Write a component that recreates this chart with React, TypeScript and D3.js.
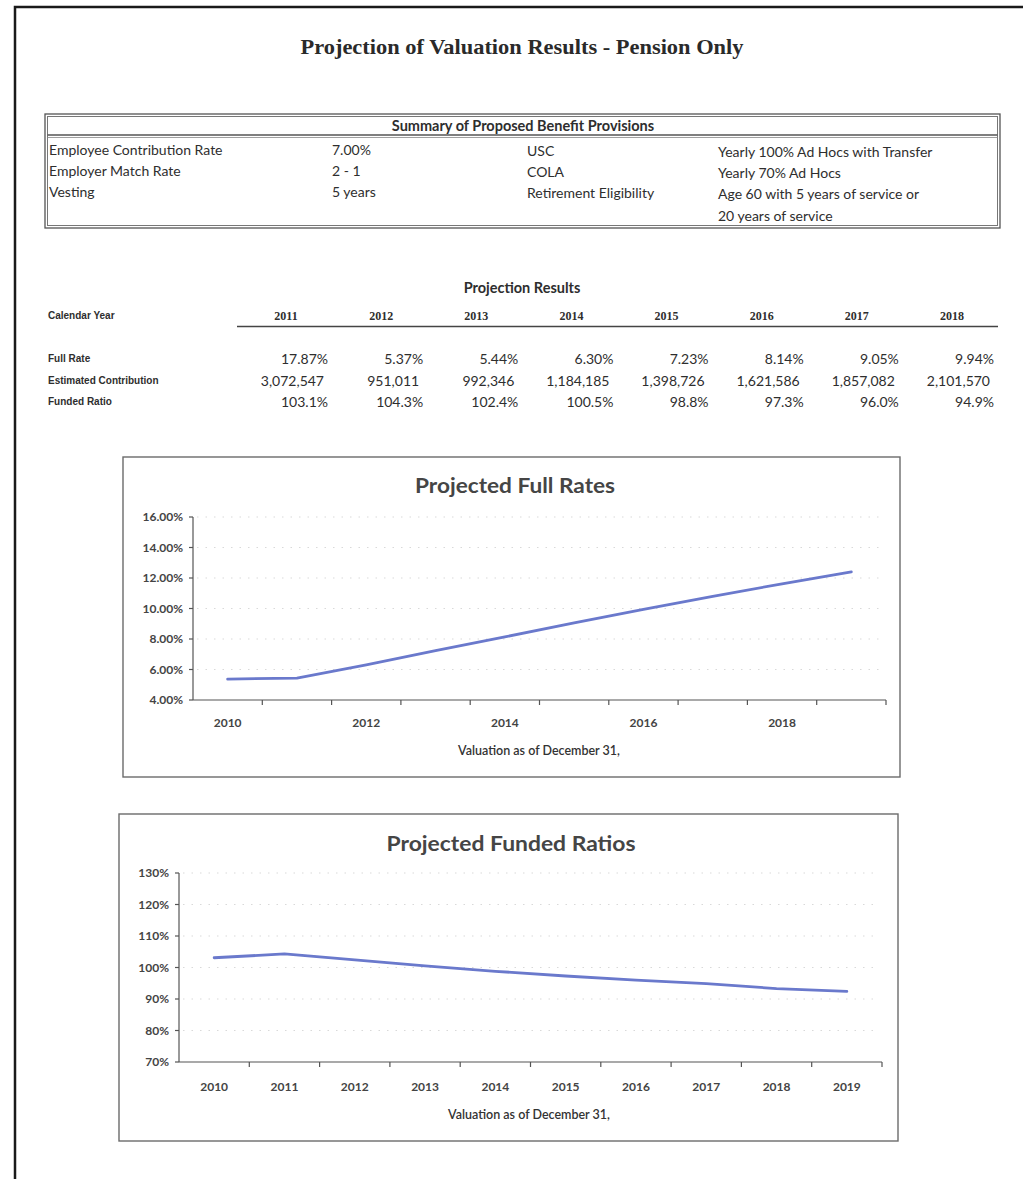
import React from "react";
import * as d3 from "d3";

// ---------- DATA ----------
const summaryLeftLabels = ["Employee Contribution Rate", "Employer Match Rate", "Vesting"];
const summaryLeftValues = ["7.00%", "2 - 1", "5 years"];
const summaryRightLabels = ["USC", "COLA", "Retirement Eligibility"];
const summaryRightValues = [
  "Yearly 100% Ad Hocs with Transfer",
  "Yearly 70% Ad Hocs",
  "Age 60 with 5 years of service or",
  "20 years of service",
];

const calendarYears = ["2011", "2012", "2013", "2014", "2015", "2016", "2017", "2018"];
const fullRate = [17.87, 5.37, 5.44, 6.3, 7.23, 8.14, 9.05, 9.94];
const estimatedContribution = [3072547, 951011, 992346, 1184185, 1398726, 1621586, 1857082, 2101570];
const fundedRatio = [103.1, 104.3, 102.4, 100.5, 98.8, 97.3, 96.0, 94.9];

const valuationYears = ["2010", "2011", "2012", "2013", "2014", "2015", "2016", "2017", "2018", "2019"];
const projectedFullRates = [5.37, 5.44, 6.3, 7.23, 8.14, 9.05, 9.94, 10.8, 11.62, 12.4];
const projectedFundedRatios = [103.1, 104.3, 102.4, 100.5, 98.8, 97.3, 96.0, 94.9, 93.3, 92.4];
const fullRateTicks = [4, 6, 8, 10, 12, 14, 16];
const fundedRatioTicks = [70, 80, 90, 100, 110, 120, 130];
const fullRateXLabels = ["2010", "2012", "2014", "2016", "2018"];
const fundedXLabels = valuationYears;

// ---------- STYLE ----------
const SANS = "Lato, 'Open Sans', sans-serif";
const SERIF = "'Liberation Serif', 'Times New Roman', serif";
const ARIAL = "'Liberation Sans', Arial, sans-serif";
const LINE_COLOR = "#6a79cc";
const TXT = "#2e2e2e";

type ChartProps = {
  box: { x: number; y: number; w: number; h: number };
  title: string;
  titleX: number;
  titleY: number;
  titleLen: number;
  xRange: [number, number];
  yRange: [number, number];
  yDomain: [number, number];
  yTicks: number[];
  yFmt: (v: number) => string;
  data: number[];
  xLabels: string[];
  xLabelY: number;
  axisTitleX: number;
  axisTitleY: number;
};

function LineChart(p: ChartProps) {
  const x = d3.scaleBand<string>().domain(valuationYears).range(p.xRange).padding(0);
  const y = d3.scaleLinear().domain(p.yDomain).range(p.yRange);
  const cx = (d: string) => (x(d) as number) + x.bandwidth() / 2;
  const line = d3
    .line<number>()
    .x((_, i) => cx(valuationYears[i]))
    .y((d) => y(d));
  const axisX = p.xRange[0];
  const axisY = p.yRange[0];
  const tickEdges = valuationYears.map((d) => (x(d) as number) + x.bandwidth());
  return (
    <g>
      <rect x={p.box.x} y={p.box.y} width={p.box.w} height={p.box.h} fill="#fff" stroke="#6b6b6b" strokeWidth={1.4} />
      <text
        x={p.titleX}
        y={p.titleY}
        textAnchor="middle"
        fontFamily={SANS}
        fontWeight={700}
        fontSize={21}
        fill="#454545"
        textLength={p.titleLen}
        lengthAdjust="spacingAndGlyphs"
      >
        {p.title}
      </text>
      {/* faint gridlines */}
      {p.yTicks.slice(1).map((t) => (
        <line
          key={"g" + t}
          x1={axisX + 4}
          x2={p.xRange[1] - 4}
          y1={y(t)}
          y2={y(t)}
          stroke="#d9d9d9"
          strokeWidth={1}
          strokeDasharray="1.5 7"
        />
      ))}
      {/* y axis */}
      <line x1={axisX} x2={axisX} y1={y(p.yDomain[1])} y2={axisY} stroke="#555" strokeWidth={1.2} />
      {p.yTicks.map((t) => (
        <g key={"y" + t}>
          <line x1={axisX - 4} x2={axisX} y1={y(t)} y2={y(t)} stroke="#555" strokeWidth={1.2} />
          <text
            x={axisX - 10}
            y={y(t) + 4}
            textAnchor="end"
            fontFamily={SANS}
            fontWeight={700}
            fontSize={12}
            fill="#444"
          >
            {p.yFmt(t)}
          </text>
        </g>
      ))}
      {/* x axis */}
      <line x1={axisX} x2={p.xRange[1]} y1={axisY} y2={axisY} stroke="#555" strokeWidth={1.2} />
      {tickEdges.map((e, i) => (
        <line key={"xt" + i} x1={e} x2={e} y1={axisY} y2={axisY + 5} stroke="#555" strokeWidth={1.2} />
      ))}
      {p.xLabels.map((d) => (
        <text
          key={"xl" + d}
          x={cx(d)}
          y={p.xLabelY}
          textAnchor="middle"
          fontFamily={SANS}
          fontWeight={700}
          fontSize={12}
          fill="#444"
        >
          {d}
        </text>
      ))}
      <text
        x={p.axisTitleX}
        y={p.axisTitleY}
        textAnchor="middle"
        fontFamily={SANS}
        fontWeight={600}
        fontSize={12.5}
        fill="#333"
      >
        Valuation as of December 31,
      </text>
      <path d={line(p.data) || ""} fill="none" stroke={LINE_COLOR} strokeWidth={2.8} strokeLinejoin="round" strokeLinecap="round" />
    </g>
  );
}

export default function App() {
  const colRight = d3.scaleLinear().domain([0, calendarYears.length - 1]).range([328, 994]);
  const fmtContrib = d3.format(",");
  const fmtRate = (v: number) => d3.format(".2f")(v) + "%";
  const fmtFunded = (v: number) => d3.format(".1f")(v) + "%";
  const leftRowY = [155, 176, 197];
  const rightRowY = [157, 178, 199, 221];

  return (
    <svg
      width={1023}
      height={1179}
      viewBox="0 0 1023 1179"
      style={{ position: "absolute", left: 0, top: 0, background: "#fff" }}
    >
      <rect x={0} y={0} width={1023} height={1179} fill="#fff" />
      {/* page border */}
      <path d="M15,1179 L15,7 L1023,7" fill="none" stroke="#1a1a1a" strokeWidth={2.5} />

      {/* main title */}
      <text
        x={522}
        y={54}
        textAnchor="middle"
        fontFamily={SERIF}
        fontWeight={700}
        fontSize={21}
        fill="#2a2a2a"
        textLength={443}
        lengthAdjust="spacingAndGlyphs"
      >
        Projection of Valuation Results - Pension Only
      </text>

      {/* summary box */}
      <rect x={45} y={114} width={955} height={114} fill="none" stroke="#555" strokeWidth={1.3} />
      <rect x={47.5} y={116.5} width={950} height={109} fill="none" stroke="#777" strokeWidth={1} />
      <line x1={47.5} x2={997.5} y1={135} y2={135} stroke="#555" strokeWidth={1.3} />
      <line x1={47.5} x2={997.5} y1={137.5} y2={137.5} stroke="#888" strokeWidth={0.8} />
      <text x={523} y={131} textAnchor="middle" fontFamily={SANS} fontWeight={700} fontSize={14.5} fill={TXT}>
        Summary of Proposed Benefit Provisions
      </text>
      {summaryLeftLabels.map((t, i) => (
        <text key={"sl" + i} x={49} y={leftRowY[i]} fontFamily={SANS} fontSize={14} fill={TXT}>
          {t}
        </text>
      ))}
      {summaryLeftValues.map((t, i) => (
        <text key={"sv" + i} x={332} y={leftRowY[i]} fontFamily={SANS} fontSize={14} fill={TXT}>
          {t}
        </text>
      ))}
      {summaryRightLabels.map((t, i) => (
        <text key={"sr" + i} x={527} y={rightRowY[i] - 1} fontFamily={SANS} fontSize={14} fill={TXT}>
          {t}
        </text>
      ))}
      {summaryRightValues.map((t, i) => (
        <text key={"srv" + i} x={718} y={rightRowY[i]} fontFamily={SANS} fontSize={14} fill={TXT}>
          {t}
        </text>
      ))}

      {/* projection table */}
      <text x={522} y={293} textAnchor="middle" fontFamily={SANS} fontWeight={700} fontSize={14.5} fill={TXT}>
        Projection Results
      </text>
      <text x={48} y={319} fontFamily={ARIAL} fontWeight={700} fontSize={10} fill={TXT}>
        Calendar Year
      </text>
      {calendarYears.map((yr, i) => (
        <text
          key={"cy" + yr}
          x={colRight(i) - 42}
          y={320}
          textAnchor="middle"
          fontFamily={SERIF}
          fontWeight={700}
          fontSize={12}
          fill={TXT}
        >
          {yr}
        </text>
      ))}
      <line x1={237} x2={998} y1={326.5} y2={326.5} stroke="#444" strokeWidth={1.6} />
      <text x={48} y={362} fontFamily={ARIAL} fontWeight={700} fontSize={10} fill={TXT}>
        Full Rate
      </text>
      <text x={48} y={384} fontFamily={ARIAL} fontWeight={700} fontSize={10} fill={TXT}>
        Estimated Contribution
      </text>
      <text x={48} y={405} fontFamily={ARIAL} fontWeight={700} fontSize={10} fill={TXT}>
        Funded Ratio
      </text>
      {fullRate.map((v, i) => (
        <text key={"fr" + i} x={colRight(i)} y={364} textAnchor="end" fontFamily={SANS} fontSize={14} fill={TXT}>
          {fmtRate(v)}
        </text>
      ))}
      {estimatedContribution.map((v, i) => (
        <text key={"ec" + i} x={colRight(i) - 4} y={386} textAnchor="end" fontFamily={SANS} fontSize={14} fill={TXT}>
          {fmtContrib(v)}
        </text>
      ))}
      {fundedRatio.map((v, i) => (
        <text key={"fu" + i} x={colRight(i)} y={407} textAnchor="end" fontFamily={SANS} fontSize={14} fill={TXT}>
          {fmtFunded(v)}
        </text>
      ))}

      {/* chart 1 */}
      <LineChart
        box={{ x: 123, y: 457, w: 777, h: 320 }}
        title="Projected Full Rates"
        titleX={515}
        titleY={493}
        titleLen={200}
        xRange={[193, 886]}
        yRange={[700, 517]}
        yDomain={[4, 16]}
        yTicks={fullRateTicks}
        yFmt={(v) => d3.format(".2f")(v) + "%"}
        data={projectedFullRates}
        xLabels={fullRateXLabels}
        xLabelY={727}
        axisTitleX={539}
        axisTitleY={755}
      />

      {/* chart 2 */}
      <LineChart
        box={{ x: 119, y: 814, w: 779, h: 327 }}
        title="Projected Funded Ratios"
        titleX={511}
        titleY={851}
        titleLen={249}
        xRange={[179, 882]}
        yRange={[1062, 873]}
        yDomain={[70, 130]}
        yTicks={fundedRatioTicks}
        yFmt={(v) => v + "%"}
        data={projectedFundedRatios}
        xLabels={fundedXLabels}
        xLabelY={1091}
        axisTitleX={529}
        axisTitleY={1119}
      />
    </svg>
  );
}
